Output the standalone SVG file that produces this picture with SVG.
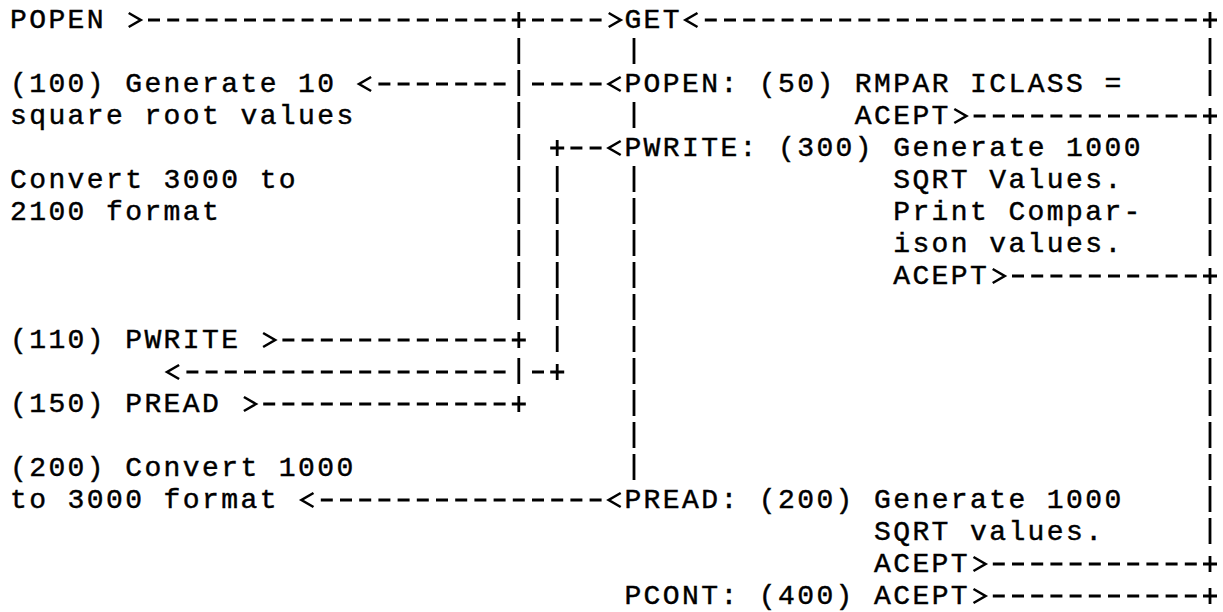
<svg xmlns="http://www.w3.org/2000/svg" width="1223" height="612" viewBox="0 0 1223 612">
<style>
.t{font-family:"Liberation Mono","DejaVu Sans Mono",monospace;font-size:28px;letter-spacing:2.4px;fill:#000;stroke:#000;stroke-width:0.45px}
.h{stroke:#000;stroke-width:3;stroke-dasharray:12 7.2;fill:none}
.v{stroke:#000;stroke-width:2.8;stroke-dasharray:26 6;fill:none}
.p{stroke:#000;stroke-width:2.8;fill:none}
.a{stroke:#000;stroke-width:2.6;fill:none;stroke-linejoin:miter}
</style>
<rect width="1223" height="612" fill="#fff"/>
<g id="connectors">
<path class="h" d="M148 20H505.6M532 20H601.6M704.8 20H1196.8"/>
<path class="h" d="M378.4 84H505.6M532 84H601.6"/>
<path class="h" d="M973.6 116H1196.8"/>
<path class="h" d="M570.4 148H601.6"/>
<path class="h" d="M1012 276H1196.8"/>
<path class="h" d="M282.4 340H505.6"/>
<path class="h" d="M186.4 372H505.6M532 372H544"/>
<path class="h" d="M263.2 404H505.6"/>
<path class="h" d="M320.8 500H601.6"/>
<path class="h" d="M992.8 564H1196.8"/>
<path class="h" d="M992.8 596H1196.8"/>
<path class="v" d="M518.8 38V320M518.8 358V384"/>
<path class="v" d="M557.2 166V352"/>
<path class="v" d="M634 38V64M634 102V128M634 166V480"/>
<path class="v" d="M1210 38V96M1210 134V256M1210 294V544"/>
<path class="p" d="M511.8 20h14M518.8 12v16"/>
<path class="p" d="M1203 20h14M1210 12v16"/>
<path class="p" d="M1203 116h14M1210 108v16"/>
<path class="p" d="M550.2 148h14M557.2 140v16"/>
<path class="p" d="M1203 276h14M1210 268v16"/>
<path class="p" d="M511.8 340h14M518.8 332v16"/>
<path class="p" d="M550.2 372h14M557.2 364v16"/>
<path class="p" d="M511.8 404h14M518.8 396v16"/>
<path class="p" d="M1203 564h14M1210 556v16"/>
<path class="p" d="M1203 596h14M1210 588v16"/>
<path class="a" d="M128.7 13L140.7 20L128.7 27"/>
<path class="a" d="M608.7 13L620.7 20L608.7 27"/>
<path class="a" d="M954.3 109L966.3 116L954.3 123"/>
<path class="a" d="M992.7 269L1004.7 276L992.7 283"/>
<path class="a" d="M263.1 333L275.1 340L263.1 347"/>
<path class="a" d="M243.9 397L255.9 404L243.9 411"/>
<path class="a" d="M973.5 557L985.5 564L973.5 571"/>
<path class="a" d="M973.5 589L985.5 596L973.5 603"/>
<path class="a" d="M697.5 13L685.5 20L697.5 27"/>
<path class="a" d="M371.1 77L359.1 84L371.1 91"/>
<path class="a" d="M620.7 77L608.7 84L620.7 91"/>
<path class="a" d="M620.7 141L608.7 148L620.7 155"/>
<path class="a" d="M179.1 365L167.1 372L179.1 379"/>
<path class="a" d="M313.5 493L301.5 500L313.5 507"/>
<path class="a" d="M620.7 493L608.7 500L620.7 507"/>
</g>
<g id="node-popen-start"><text class="t" x="10" y="28.3">POPEN</text></g>
<g id="node-get"><text class="t" x="624.4" y="28.3">GET</text></g>
<g id="node-gen10"><text class="t" x="10" y="92.3">(100) Generate 10</text><text class="t" x="10" y="124.3">square root values</text></g>
<g id="node-convert3000"><text class="t" x="10" y="188.3">Convert 3000 to</text><text class="t" x="10" y="220.3">2100 format</text></g>
<g id="node-pwrite110"><text class="t" x="10" y="348.3">(110) PWRITE</text></g>
<g id="node-pread150"><text class="t" x="10" y="412.3">(150) PREAD</text></g>
<g id="node-convert1000"><text class="t" x="10" y="476.3">(200) Convert 1000</text><text class="t" x="10" y="508.3">to 3000 format</text></g>
<g id="node-popen50"><text class="t" x="624.4" y="92.3">POPEN: (50) RMPAR ICLASS =</text><text class="t" x="854.8" y="124.3">ACEPT</text></g>
<g id="node-pwrite300"><text class="t" x="624.4" y="156.3">PWRITE: (300) Generate 1000</text><text class="t" x="893.2" y="188.3">SQRT Values.</text><text class="t" x="893.2" y="220.3">Print Compar-</text><text class="t" x="893.2" y="252.3">ison values.</text><text class="t" x="893.2" y="284.3">ACEPT</text></g>
<g id="node-pread200"><text class="t" x="624.4" y="508.3">PREAD: (200) Generate 1000</text><text class="t" x="874" y="540.3">SQRT values.</text><text class="t" x="874" y="572.3">ACEPT</text></g>
<g id="node-pcont400"><text class="t" x="624.4" y="604.3">PCONT: (400) ACEPT</text></g>
</svg>
